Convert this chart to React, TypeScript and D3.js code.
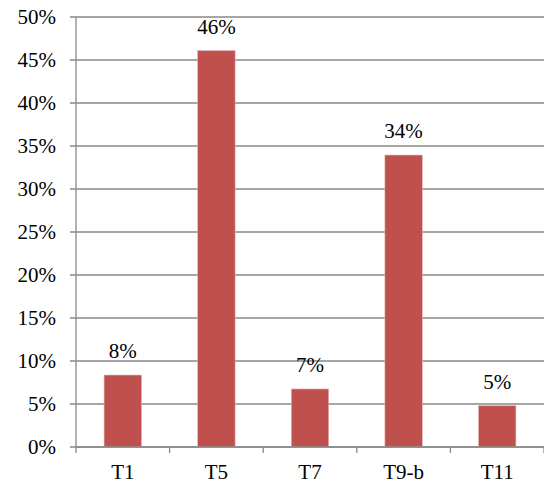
import React, { useRef, useEffect } from "react";
import * as d3 from "d3";

const categories = ["T1", "T5", "T7", "T9-b", "T11"];
const values = [8.37, 46.1, 6.75, 33.95, 4.8];
const labels = ["8%", "46%", "7%", "34%", "5%"];
const yTicks = [0, 5, 10, 15, 20, 25, 30, 35, 40, 45, 50];

const App = () => {
  const svgRef = useRef<SVGSVGElement>(null);

  useEffect(() => {
    const svg = d3.select(svgRef.current);
    const width = 544;
    const height = 484;
    const margin = { top: 17, right: 0, bottom: 37, left: 76 };
    const font = "'Liberation Serif', 'Times New Roman', serif";
    const fontSize = 21;
    const gridColor = "#898989";

    svg.selectAll("*").remove();

    const x = d3
      .scaleBand()
      .domain(categories)
      .range([margin.left, width - margin.right])
      .padding(0);

    const y = d3
      .scaleLinear()
      .domain([0, 50])
      .range([height - margin.bottom, margin.top]);

    // gridlines + y ticks
    const yAxis = svg.append("g").attr("class", "y-axis");
    yAxis
      .selectAll("line.grid")
      .data(yTicks)
      .join("line")
      .attr("class", "grid")
      .attr("x1", margin.left - 6)
      .attr("x2", width - margin.right)
      .attr("y1", (d) => y(d))
      .attr("y2", (d) => y(d))
      .attr("stroke", gridColor)
      .attr("stroke-width", 1.3);

    yAxis
      .selectAll("text")
      .data(yTicks)
      .join("text")
      .attr("x", 56)
      .attr("y", (d) => y(d) + 7)
      .attr("text-anchor", "end")
      .attr("font-family", font)
      .attr("font-size", fontSize)
      .attr("fill", "#000")
      .text((d) => `${d}%`);

    yAxis
      .append("line")
      .attr("x1", margin.left)
      .attr("x2", margin.left)
      .attr("y1", y(50))
      .attr("y2", y(0))
      .attr("stroke", gridColor)
      .attr("stroke-width", 1.3);

    // bars
    const barW = x.bandwidth() * 0.4;
    svg
      .append("g")
      .attr("class", "bars")
      .selectAll("rect")
      .data(values)
      .join("rect")
      .attr("x", (d, i) => x(categories[i])! + (x.bandwidth() - barW) / 2)
      .attr("y", (d) => y(d))
      .attr("width", barW)
      .attr("height", (d) => y(0) - y(d))
      .attr("fill", "#C0504D")
      .attr("stroke", "#e4b8b6")
      .attr("stroke-width", 0.6);

    // data labels
    svg
      .append("g")
      .attr("class", "labels")
      .selectAll("text")
      .data(values)
      .join("text")
      .attr("x", (d, i) => x(categories[i])! + x.bandwidth() / 2)
      .attr("y", (d) => y(d) - 17)
      .attr("text-anchor", "middle")
      .attr("font-family", font)
      .attr("font-size", fontSize)
      .attr("fill", "#000")
      .text((d, i) => labels[i]);

    // x axis
    const xAxis = svg.append("g").attr("class", "x-axis");
    xAxis
      .append("line")
      .attr("x1", margin.left)
      .attr("x2", width - margin.right)
      .attr("y1", y(0))
      .attr("y2", y(0))
      .attr("stroke", gridColor)
      .attr("stroke-width", 1.3);

    const tickXs = categories.map((c) => x(c)!).concat([x.range()[1]]);
    xAxis
      .selectAll("line.tick")
      .data(tickXs)
      .join("line")
      .attr("class", "tick")
      .attr("x1", (d) => d)
      .attr("x2", (d) => d)
      .attr("y1", y(0))
      .attr("y2", y(0) + 6)
      .attr("stroke", gridColor)
      .attr("stroke-width", 1.3);

    xAxis
      .selectAll("text")
      .data(categories)
      .join("text")
      .attr("x", (d) => x(d)! + x.bandwidth() / 2)
      .attr("y", 479)
      .attr("text-anchor", "middle")
      .attr("font-family", font)
      .attr("font-size", fontSize)
      .attr("fill", "#000")
      .text((d) => d);
  }, []);

  return (
    <svg
      ref={svgRef}
      width="544"
      height="484"
      style={{ position: "absolute", left: 0, top: 0, background: "#fff" }}
    ></svg>
  );
};

export default App;
